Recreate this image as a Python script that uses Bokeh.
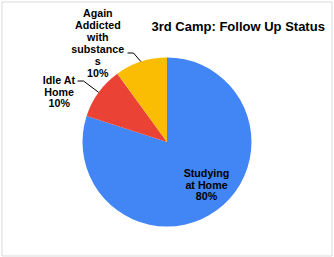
import math
from bokeh.plotting import figure
from bokeh.models import ColumnDataSource, Range1d, BoxAnnotation
from bokeh.core.properties import value
from bokeh.embed import file_html
from bokeh.resources import INLINE

# ---- data ----
categories = ["Studying at Home", "Idle At Home", "Again Addicted with substances"]
display_labels = ["Studying\nat Home", "Idle At\nHome", "Again\nAddicted\nwith\nsubstance\ns"]
values = [80, 10, 10]
colors = ["#4285F4", "#EA4335", "#FBBC04"]
title_text = "3rd Camp:  Follow Up Status"

# ---- layout (page pixels, y downward) ----
W, H = 334, 257
CX, CY, R = 166.5, 141.5, 84.5
label_pos = [(206.0, 184.0), (58.7, 91.0), (97.3, 42.7)]   # block centres
LINE_H = 11.95
leader_start = [None, (77.0, 80.5), (127.0, 52.5)]
FONT = "Liberation Sans"

def Y(py):
    return H - py

total = float(sum(values))
starts, ends, mids = [], [], []
acc = 0.0
for v in values:
    a0 = math.pi / 2 - acc / total * 2 * math.pi
    a1 = math.pi / 2 - (acc + v) / total * 2 * math.pi
    starts.append(a0)
    ends.append(a1)
    mids.append((a0 + a1) / 2)
    acc += v

p = figure(width=W, height=H, output_backend="svg", toolbar_location=None,
           x_range=Range1d(0, W), y_range=Range1d(0, H), min_border=0)
p.axis.visible = False
p.grid.visible = False
p.outline_line_color = None
p.background_fill_color = "white"
p.border_fill_color = "white"

src = ColumnDataSource(dict(cat=categories, val=values, color=colors,
                            start=starts, end=ends))
p.wedge(x=CX, y=Y(CY), radius=R, start_angle="start", end_angle="end",
        direction="clock", fill_color="color", line_color=None, source=src)

# labels, one text row per line so each line is centred
tx, ty, tt = [], [], []
for (cx, cy), lab, v in zip(label_pos, display_labels, values):
    lines = lab.split("\n") + [f"{v}%"]
    n = len(lines)
    for k, ln in enumerate(lines):
        tx.append(cx)
        ty.append(Y(cy + (k - (n - 1) / 2) * LINE_H))
        tt.append(ln)
p.text(x=tx, y=ty, text=tt, text_align="center", text_baseline="middle",
       text_font=value(FONT), text_font_size="10.7px", text_font_style="bold",
       text_color="black")

# leader lines
for i, st in enumerate(leader_start):
    if st is None:
        continue
    ex = CX + R * math.cos(mids[i])
    ey = Y(CY) + R * math.sin(mids[i])
    xs = [st[0], st[0] + 6, ex]
    ys = [Y(st[1]), Y(st[1]), ey]
    p.line(xs, ys, line_color="black", line_width=1)

# title
p.text(x=[239.5], y=[Y(26)], text=[title_text], text_align="center",
       text_baseline="alphabetic", text_font=value(FONT), text_font_size="13px",
       text_font_style="bold", text_color="black")

# chart border
p.add_layout(BoxAnnotation(left=1.5, right=331.5, bottom=Y(255.5), top=Y(1.5),
                           fill_alpha=0, line_color="#878787", line_width=1))

open("out.html", "w").write(file_html(p, INLINE))
